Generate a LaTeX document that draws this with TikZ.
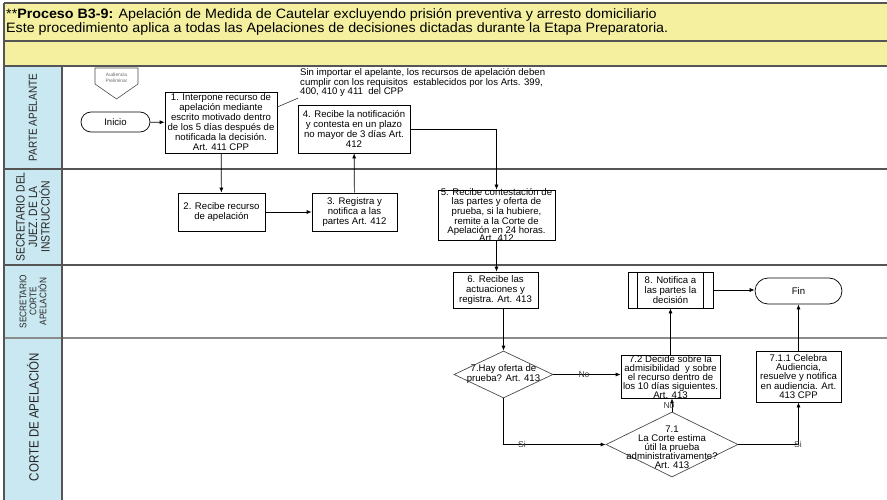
\documentclass[tikz,border=0pt]{standalone}
\usepackage{fontspec}
\setmainfont{Liberation Sans}
\newfontfamily\condfont[FakeStretch=0.86]{Liberation Sans}
\newfontfamily\headfont[FakeStretch=1.05]{Liberation Sans}
\usetikzlibrary{arrows.meta,shapes.geometric,shapes.misc}

\definecolor{hdrfill}{HTML}{F4F0A0}
\definecolor{lanefill}{HTML}{C9E8F1}
\definecolor{rulegray}{HTML}{555555}

\begin{document}
\begin{tikzpicture}[x=1pt,y=-1pt,
  boxtext/.style={font=\fontsize{9.6}{10}\selectfont},
  proc/.style={draw=black, line width=0.7pt, fill=white, inner sep=0pt,
               align=center, boxtext},
  term/.style={draw=black, line width=0.7pt, fill=white, rounded rectangle,
               inner sep=0pt, boxtext},
  decision/.style={draw=black!70, line width=0.7pt, fill=white, diamond,
               inner sep=0pt},
  dtext/.style={align=center, inner sep=0pt, boxtext},
  flow/.style={draw=black, line width=0.7pt, -{Latex[length=5pt,width=4pt]}},
  elabel/.style={font=\fontsize{8.6}{9}\selectfont, inner sep=0pt, text=black!75},
  lane/.style={draw=rulegray, line width=1.2pt},
  lanelabel/.style={rotate=90, align=center, inner sep=0pt, text=black!85}]

\useasboundingbox (0,0) rectangle (887,500);

% header band
\fill[hdrfill] (4,3) rectangle (887,66);
\draw[lane] (4,3) -- (887,3);
\draw[lane] (4,41) -- (887,41);
\node[anchor=west, inner sep=0pt, font=\headfont\fontsize{13.6}{15}\selectfont] (title1) at (6,15)
  {**\textbf{Proceso B3-9:} Apelación de Medida de Cautelar excluyendo prisión preventiva y arresto domiciliario};
\node[anchor=west, inner sep=0pt, font=\headfont\fontsize{13.6}{15}\selectfont] (title2) at (6,29)
  {Este procedimiento aplica a todas las Apelaciones de decisiones dictadas durante la Etapa Preparatoria.};

% swimlanes
\fill[lanefill] (4,66) rectangle (62,500);
\draw[lane] (4,66) -- (887,66);
\draw[lane] (4,169) -- (887,169);
\draw[lane] (4,265) -- (887,265);
\draw[draw=black!45, line width=1.2pt] (4,338) -- (887,338);
\draw[lane] (4,3) -- (4,500);
\draw[lane] (62,66) -- (62,500);

\node[lanelabel, font=\condfont\fontsize{11.6}{13}\selectfont] (l1) at (33,117.5) {PARTE APELANTE};
\node[lanelabel, font=\condfont\fontsize{12}{12.6}\selectfont] (l2) at (33,217) {SECRETARIO DEL\\JUEZ. DE LA\\INSTRUCCIÓN};
\node[lanelabel, font=\condfont\fontsize{9.6}{10}\selectfont] (l3) at (33,301.5) {SECRETARIO\\CORTE\\APELACIÓN};
\node[lanelabel, font=\condfont\fontsize{13.4}{14}\selectfont] (l4) at (33,417) {CORTE DE APELACIÓN};

% off-page connector
\draw[draw=black!70, line width=0.6pt, fill=white] (95,68) -- (138,68) -- (138,84) -- (116.5,99) -- (95,84) -- cycle;
\node[align=center, inner sep=0pt, text=black!60, font=\fontsize{4.8}{5.8}\selectfont] (conn) at (116.5,78) {Audiencia\\Preliminar};

% process steps
\node[term, minimum width=69pt, minimum height=20pt] (inicio) at (115.5,122) {Inicio};
\node[proc, minimum width=112pt, minimum height=61pt] (b1) at (221,122.5)
  {1. Interpone recurso de\\apelación mediante\\escrito motivado dentro\\de los 5 días después de\\notificada la decisión.\\Art. 411 CPP};
\node[proc, minimum width=87pt, minimum height=38pt] (b2) at (221.5,212) {2. Recibe recurso\\de apelación};
\node[proc, minimum width=85pt, minimum height=38pt] (b3) at (354.5,212) {3. Registra y\\notifica a las\\partes Art. 412};
\node[proc, minimum width=112pt, minimum height=48pt] (b4) at (354,129)
  {4. Recibe la notificación\\y contesta en un plazo\\no mayor de 3 días Art.\\412};
\node[proc, minimum width=117pt, minimum height=50pt] (b5) at (496.5,215) {};
\node[dtext, font=\fontsize{9.6}{8.7}\selectfont] (b5t) at (496.5,215.5)
  {5. Recibe contestación de\\las partes y oferta de\\prueba, si la hubiere,\\remite a la Corte de\\Apelación en 24 horas.\\Art. 412};
\node[proc, minimum width=85pt, minimum height=36pt] (b6) at (495.5,290) {6. Recibe las\\actuaciones y\\registra. Art. 413};
\node[proc, minimum width=85pt, minimum height=36pt] (b8) at (670.5,290) {8. Notifica a\\las partes la\\decisión};
\draw[line width=0.7pt] ([xshift=10pt]b8.north west) -- ([xshift=10pt]b8.south west);
\draw[line width=0.7pt] ([xshift=-10pt]b8.north east) -- ([xshift=-10pt]b8.south east);
\node[term, minimum width=87pt, minimum height=26pt] (fin) at (798.5,291) {Fin};

\node[decision, minimum width=99pt, minimum height=47pt] (d7) at (503.5,374.5) {};
\node[dtext] (d7t) at (503.5,374.5) {7.Hay oferta de\\prueba? Art. 413};
\node[proc, minimum width=99pt, minimum height=43pt] (b72) at (670.5,376.5) {};
\node[dtext, font=\fontsize{9.6}{8.9}\selectfont] (b72t) at (670.5,377)
  {7.2 Decide sobre la\\admisibilidad\ \ y sobre\\el recurso dentro de\\los 10 días siguientes.\\Art. 413};
\node[proc, minimum width=85pt, minimum height=51pt] (b711) at (798.5,376.5) {};
\node[dtext, font=\fontsize{9.6}{9.2}\selectfont] (b711t) at (798.5,376.5)
  {7.1.1 Celebra\\Audiencia,\\resuelve y notifica\\en audiencia. Art.\\413 CPP};
\node[decision, minimum width=132pt, minimum height=65pt] (d71) at (672,444.5) {};
\node[dtext, font=\fontsize{9.6}{9}\selectfont] (d71t) at (672,447) {7.1\\La Corte estima\\útil la prueba\\administrativamente?\\Art. 413};

% note attached to step 1
\node[anchor=north west, align=left, inner sep=0pt, font=\fontsize{9.6}{9.6}\selectfont] (note) at (300,68.5)
  {Sin importar el apelante, los recursos de apelación deben\\cumplir con los requisitos\ \ establecidos por los Arts. 399,\\400, 410 y 411\ \ del CPP};
\draw[line width=0.6pt, black!80] ([yshift=15.5pt]b1.east) -- ([xshift=-2pt,yshift=-1pt]note.south west);

% connectors
\draw[flow] (inicio) -- (b1);
\draw[flow] (b1) -- (b2);
\draw[flow] (b2) -- (b3);
\draw[flow] (b3) -- (b4);
\draw[flow] (b4.east) -| (b5.north);
\draw[flow] (b5.south) -- (b5.south |- b6.north);
\draw[flow] (d7.north |- b6.south) -- (d7.north);
\draw[flow] (d7.east) -- (d7.east -| b72.west);
\draw[flow] (d7.south) |- (d71.west);
\draw[flow] (d71.north) -- (d71.north |- b72.south);
\draw[flow] (d71.east) -| (b711.south);
\draw[flow] (b72.north) -- (b72.north |- b8.south);
\draw[flow] (b711.north) -- (b711.north |- fin.south);
\draw[flow] (b8.east) -- (b8.east -| fin.west);

% branch labels
\node[elabel] (no1) at (584,374.5) {No};
\node[elabel] (si1) at (522,444.5) {Si};
\node[elabel] (no2) at (669,405.5) {No};
\node[elabel] (si2) at (798,444.5) {Si};

\end{tikzpicture}
\end{document}
